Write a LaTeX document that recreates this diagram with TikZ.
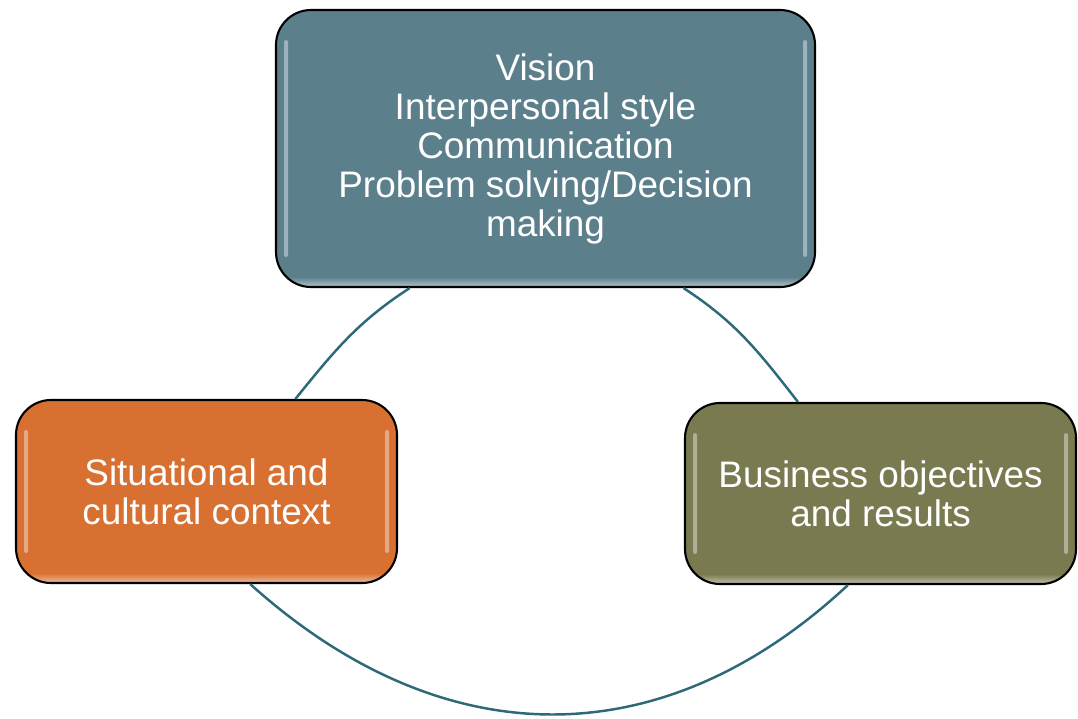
\documentclass[tikz,border=0pt]{standalone}
\usepackage{fontspec}
\setmainfont{Liberation Sans}
\usetikzlibrary{calc,fadings}

\definecolor{visionblue}{RGB}{92,127,140}
\definecolor{contextorange}{RGB}{216,112,50}
\definecolor{resultolive}{RGB}{122,122,80}
\definecolor{cycleteal}{RGB}{45,105,120}

\tikzset{
  cyclebox/.style={draw=black, line width=0.6pt, rounded corners=0.35cm,
    text=white, align=center, inner sep=0pt,
    font=\fontsize{10.5pt}{11.1pt}\selectfont,
    path picture={
      % glossy strips along both sides
      \fill[white, opacity=.4, rounded corners=0.6pt]
        ([xshift=0.08cm,yshift=0.3cm]path picture bounding box.south west)
        rectangle ([xshift=0.12cm,yshift=-0.3cm]path picture bounding box.north west);
      \fill[white, opacity=.4, rounded corners=0.6pt]
        ([xshift=-0.12cm,yshift=0.3cm]path picture bounding box.south east)
        rectangle ([xshift=-0.08cm,yshift=-0.3cm]path picture bounding box.north east);
      % lighter rim along the bottom
      \fill[white, opacity=.55, sharp corners, path fading=north]
        (path picture bounding box.south west)
        rectangle ([yshift=0.1cm]path picture bounding box.south east);
    }},
  cycleline/.style={draw=cycleteal, line width=0.7pt}
}

\begin{document}
\begin{tikzpicture}
    \useasboundingbox (0,0) rectangle (10.78,7.18);

    \node[cyclebox, fill=visionblue, minimum width=5.39cm, minimum height=2.77cm] (vision) at (5.455,5.695)
        {Vision\\Interpersonal style\\Communication\\Problem solving/Decision\\making};
    \node[cyclebox, fill=contextorange, minimum width=3.81cm, minimum height=1.83cm] (context) at (2.065,2.265)
        {Situational and\\cultural context};
    \node[cyclebox, fill=resultolive, minimum width=3.91cm, minimum height=1.81cm] (results) at (8.805,2.245)
        {Business objectives\\and results};

    % the cycle running between the boxes
    \draw[cycleline] ($(vision.south west)!0.249!(vision.south east)$)
        to[out=213,in=51] ($(context.north west)!0.732!(context.north east)$);
    \draw[cycleline] ($(vision.south west)!0.755!(vision.south east)$)
        to[out=-33,in=128] ($(results.north west)!0.29!(results.north east)$);
    \draw[cycleline] ($(context.south west)!0.614!(context.south east)$)
        to[out=-42,in=223,looseness=1.1] ($(results.south west)!0.417!(results.south east)$);
\end{tikzpicture}
\end{document}
